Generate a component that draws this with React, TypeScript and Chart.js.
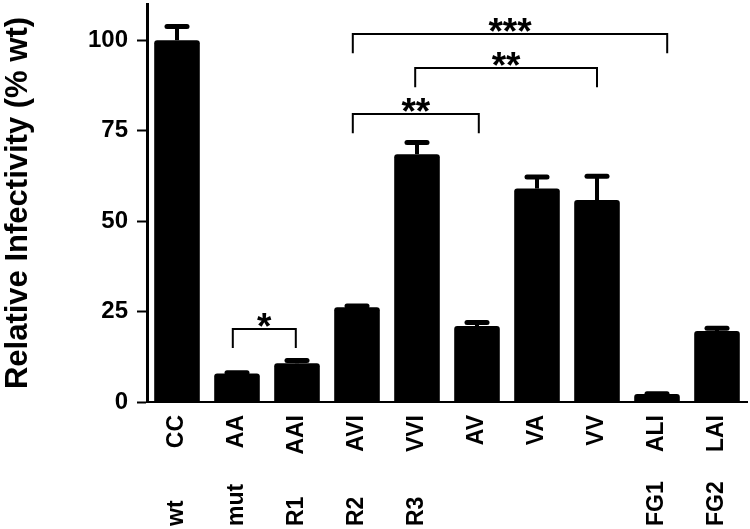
import { useEffect, useRef } from 'react';
import { Chart, registerables } from 'chart.js';

Chart.register(...registerables);

const FONT = "'Liberation Sans', Arial, Helvetica, sans-serif";

const categories = ['CC', 'AA', 'AAI', 'AVI', 'VVI', 'AV', 'VA', 'VV', 'ALI', 'LAI'];
const groupLabels = ['wt', 'mut', 'R1', 'R2', 'R3', '', '', '', 'FG1', 'FG2'];
const infectivity = [100, 7.9, 10.7, 26.2, 68.5, 21.0, 59.0, 55.8, 2.2, 19.6];
const errorUp = [3.8, 0.2, 0.8, 0.3, 3.2, 1.0, 3.2, 6.6, 0.1, 0.8];
const yTicks = [0, 25, 50, 75, 100];
const yTitle = 'Relative Infectivity (% wt)';

// significance brackets: from/to are category positions, y = bar height, legEnd = leg bottom
const bracketFrom = [0.93, 2.93, 3.97, 2.93];
const bracketTo = [1.98, 5.03, 7.0, 8.17];
const bracketY = [20.2, 79.6, 92.3, 101.7];
const bracketLegEnd = [14.9, 74.3, 87.0, 96.4];
const bracketLabel = ['*', '**', '**', '***'];

const overlayPlugin = {
  id: 'overlay',
  afterDatasetsDraw(chart: any) {
    const ctx = chart.ctx;
    const xs = chart.scales.x;
    const ys = chart.scales.y;
    const meta = chart.getDatasetMeta(0);
    ctx.save();
    ctx.strokeStyle = '#000';
    ctx.fillStyle = '#000';
    meta.data.forEach((bar: any, i: number) => {
      const x = bar.x;
      const yb = ys.getPixelForValue(infectivity[i]);
      const yt = ys.getPixelForValue(infectivity[i] + errorUp[i]);
      ctx.lineCap = 'butt';
      ctx.lineWidth = 4;
      ctx.beginPath();
      ctx.moveTo(x, yb);
      ctx.lineTo(x, yt);
      ctx.stroke();
      ctx.lineCap = 'round';
      ctx.lineWidth = 5;
      ctx.beginPath();
      ctx.moveTo(x - 10, yt);
      ctx.lineTo(x + 10, yt);
      ctx.stroke();
    });
    ctx.lineCap = 'butt';
    ctx.lineJoin = 'miter';
    ctx.lineWidth = 2;
    ctx.font = `bold 37px ${FONT}`;
    ctx.textAlign = 'center';
    ctx.textBaseline = 'alphabetic';
    bracketLabel.forEach((label, k) => {
      const x1 = xs.getPixelForValue(bracketFrom[k]);
      const x2 = xs.getPixelForValue(bracketTo[k]);
      const yh = ys.getPixelForValue(bracketY[k]);
      const yl = ys.getPixelForValue(bracketLegEnd[k]);
      ctx.beginPath();
      ctx.moveTo(x1, yl);
      ctx.lineTo(x1, yh);
      ctx.lineTo(x2, yh);
      ctx.lineTo(x2, yl);
      ctx.stroke();
      const m = ctx.measureText(label);
      const cy = yh - 9;
      const base = cy + (m.actualBoundingBoxAscent - m.actualBoundingBoxDescent) / 2;
      ctx.fillText(label, (x1 + x2) / 2, base);
    });
    ctx.restore();
  },
  afterDraw(chart: any) {
    const ctx = chart.ctx;
    const xs = chart.scales.x;
    ctx.save();
    ctx.fillStyle = '#000';
    ctx.font = `bold 23px ${FONT}`;
    ctx.textAlign = 'left';
    ctx.textBaseline = 'middle';
    groupLabels.forEach((g, i) => {
      if (!g) return;
      const x = xs.getPixelForValue(i);
      ctx.save();
      ctx.translate(x, 526);
      ctx.rotate(-Math.PI / 2);
      ctx.fillText(g, 0, 0);
      ctx.restore();
    });
    ctx.restore();
  },
};

export default function App() {
  const ref = useRef<HTMLCanvasElement>(null);
  useEffect(() => {
    if (!ref.current) return;
    const chart = new Chart(ref.current, {
      type: 'bar',
      data: {
        labels: categories,
        datasets: [
          {
            data: infectivity,
            backgroundColor: '#000',
            borderWidth: 0,
            borderRadius: { topLeft: 3, topRight: 3, bottomLeft: 0, bottomRight: 0 },
            borderSkipped: 'start',
            categoryPercentage: 1,
            barPercentage: 0.76,
          },
        ],
      },
      options: {
        responsive: false,
        animation: false,
        devicePixelRatio: 1,
        layout: { padding: { top: 4, right: 3, left: 0, bottom: 0 } },
        plugins: { legend: { display: false }, tooltip: { enabled: false } },
        scales: {
          x: {
            offset: true,
            grid: { display: true, drawOnChartArea: false, drawTicks: false },
            border: { display: true, color: '#000', width: 2 },
            ticks: {
              color: '#000',
              font: { family: FONT, size: 23, weight: 'bold' },
              minRotation: 90,
              maxRotation: 90,
              autoSkip: false,
              padding: 13,
            },
            afterFit(s: any) {
              s.height = 127;
              s.paddingLeft = 0;
              s.paddingRight = 0;
            },
          },
          y: {
            min: 0,
            max: 110,
            grid: {
              display: true,
              drawOnChartArea: false,
              drawTicks: true,
              tickLength: 10,
              tickWidth: 2,
              tickColor: '#000',
            },
            border: { display: true, color: '#000', width: 3 },
            ticks: {
              color: '#000',
              font: { family: FONT, size: 24, weight: 'bold' },
              padding: 9,
            },
            afterBuildTicks(s: any) {
              s.ticks = yTicks.map((v) => ({ value: v }));
            },
            afterFit(s: any) {
              s.width = 147;
              s.paddingTop = 0;
              s.paddingBottom = 0;
            },
            title: {
              display: true,
              text: yTitle,
              color: '#000',
              font: { family: FONT, size: 31, weight: 'bold' },
              padding: 0,
            },
          },
        },
      },
      plugins: [overlayPlugin],
    });
    return () => chart.destroy();
  }, []);
  return (
    <div style={{ position: 'fixed', left: 0, top: 0, width: 750, height: 529, background: '#fff' }}>
      <canvas ref={ref} width={750} height={529} style={{ display: 'block' }} />
    </div>
  );
}
